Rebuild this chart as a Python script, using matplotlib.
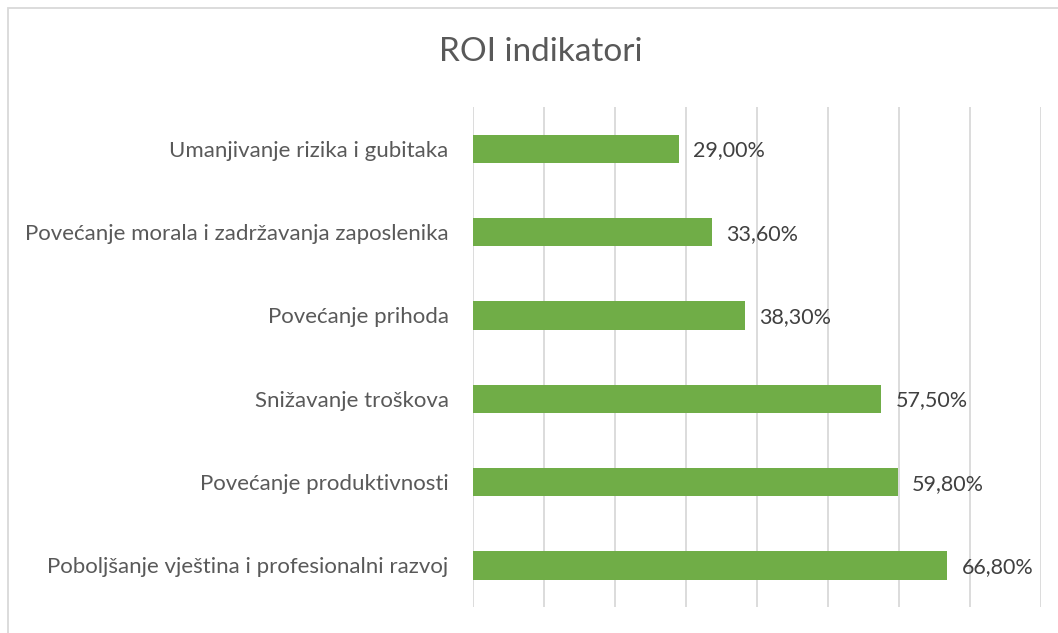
import matplotlib
matplotlib.use("Agg")
import matplotlib.pyplot as plt
from matplotlib.patches import Rectangle

categories = ["Poboljšanje vještina i profesionalni razvoj",
              "Povećanje produktivnosti",
              "Snižavanje troškova",
              "Povećanje prihoda",
              "Povećanje morala i zadržavanja zaposlenika",
              "Umanjivanje rizika i gubitaka"]
values = [66.8, 59.8, 57.5, 38.3, 33.6, 29.0]
labels = ["66,80%", "59,80%", "57,50%", "38,30%", "33,60%", "29,00%"]

GREEN, GREY, DARK, GRID = "#70AD47", "#595959", "#404040", "#D9D9D9"
plt.rcParams.update({"font.family": ["Lato", "DejaVu Sans"]})

fig = plt.figure(figsize=(10.58, 6.33), dpi=100)
ax = fig.add_axes([473 / 1058, 1 - 607 / 633, (1041 - 473) / 1058, 500 / 633])

y = range(len(categories))
ax.barh(y, values, height=0.34, color=GREEN, zorder=3)
for i, (v, lab) in enumerate(zip(values, labels)):
    ax.text(v + 2.0, i - 0.02, lab, va="center", ha="left", fontsize=15.5, color=DARK)

ax.set_xlim(0, 80)
ax.set_ylim(-0.5, len(categories) - 0.5)
ax.set_xticks(range(0, 81, 10))
ax.set_xticklabels([])
ax.grid(axis="x", color=GRID, lw=1.3, zorder=0)
ax.tick_params(axis="x", length=0)
ax.tick_params(axis="y", length=0, pad=17.5, labelsize=16, labelcolor=GREY)
ax.set_yticks(list(y))
ax.set_yticklabels(categories)
for s in ax.spines.values():
    s.set_visible(False)

fig.text(541 / 1058, 1 - 52 / 633, "ROI indikatori", ha="center", va="center",
         fontsize=24, color=GREY)
fig.patches.append(Rectangle((8 / 1058, -0.05), 1.1, 1 - 8 / 633 + 0.05,
                             transform=fig.transFigure, fill=False,
                             edgecolor=GRID, lw=1.3))

fig.savefig("out.png", dpi=100, facecolor="white")
